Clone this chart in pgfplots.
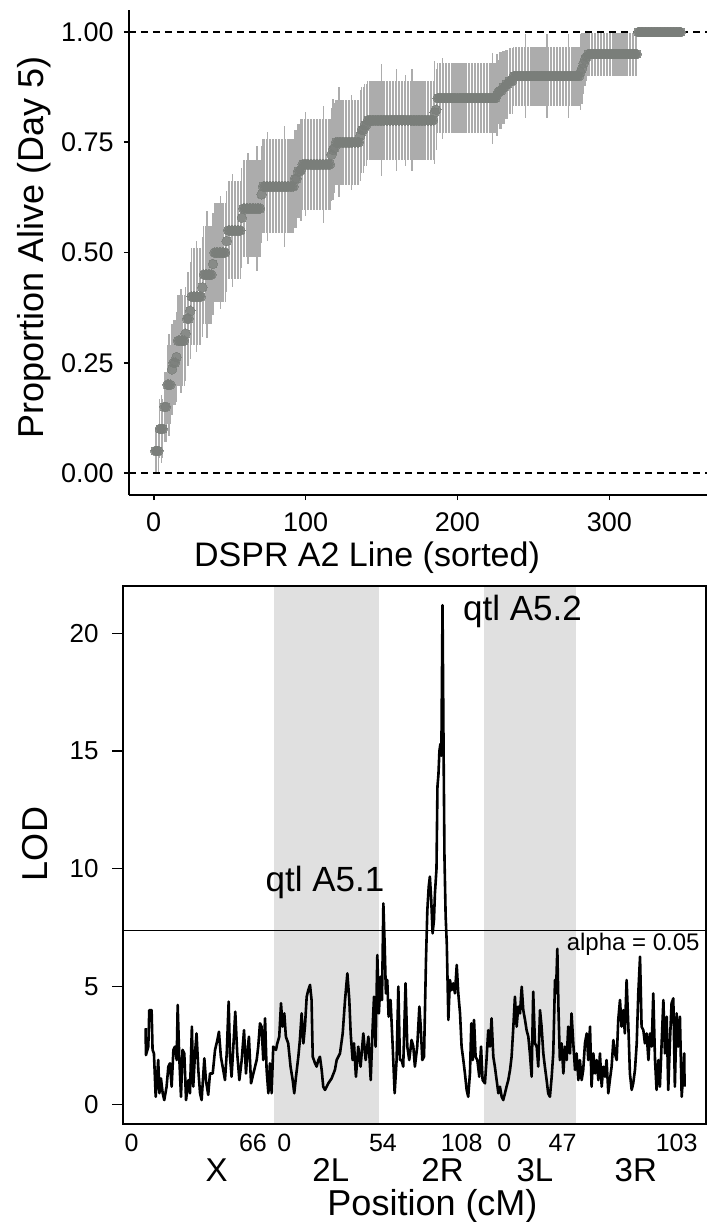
\documentclass[border=0pt]{standalone}
\usepackage{pgfplots}
\pgfplotsset{compat=1.18}
\usepackage{pgfplotstable}
\usepackage{fontspec}
\setmainfont{Liberation Sans}
\definecolor{shade}{RGB}{224,224,224}
\definecolor{barcol}{RGB}{172,172,172}
\definecolor{ptcol}{RGB}{122,126,122}
\newcommand\fs[1]{\fontsize{#1}{#1}\selectfont}

\pgfplotstableread[row sep=\\]{
x y e\\
1 0.05 0.0487\\2 0.05 0.0487\\3 0.05 0.0487\\
4 0.10 0.0671\\5 0.10 0.0775\\6 0.10 0.0671\\
7 0.15 0.0798\\8 0.15 0.0798\\
9 0.20 0.0894\\10 0.20 0.1155\\11 0.20 0.0894\\
12 0.235 0.1029\\13 0.25 0.0968\\14 0.25 0.0968\\15 0.263 0.1010\\
16 0.30 0.1025\\17 0.30 0.1025\\18 0.30 0.1183\\19 0.30 0.1025\\20 0.30 0.1025\\
21 0.316 0.1067\\22 0.35 0.1067\\23 0.35 0.1067\\24 0.368 0.1106\\
25 0.40 0.1095\\26 0.40 0.1095\\27 0.40 0.1095\\28 0.40 0.1265\\29 0.40 0.1095\\30 0.40 0.1095\\31 0.40 0.1095\\
32 0.421 0.1133\\
33 0.45 0.1112\\34 0.45 0.1112\\35 0.45 0.1436\\36 0.45 0.1112\\37 0.45 0.1112\\38 0.45 0.1112\\
39 0.474 0.1146\\
40 0.50 0.1118\\41 0.50 0.1118\\42 0.50 0.1118\\43 0.50 0.1118\\44 0.50 0.1291\\45 0.50 0.1118\\46 0.50 0.1118\\47 0.50 0.1118\\
48 0.526 0.1146\\
49 0.55 0.1112\\50 0.55 0.1112\\51 0.55 0.1112\\52 0.55 0.1284\\53 0.55 0.1112\\54 0.55 0.1112\\55 0.55 0.1112\\56 0.55 0.1112\\57 0.55 0.1112\\
58 0.579 0.1133\\
59 0.60 0.1095\\60 0.60 0.1095\\61 0.60 0.1095\\62 0.60 0.1265\\63 0.60 0.1095\\64 0.60 0.1095\\65 0.60 0.1095\\66 0.60 0.1095\\67 0.60 0.1095\\68 0.60 0.1414\\69 0.60 0.1095\\70 0.60 0.1095\\
71 0.632 0.1106\\
72 0.65 0.1067\\73 0.65 0.1067\\74 0.65 0.1067\\75 0.65 0.1232\\76 0.65 0.1067\\77 0.65 0.1067\\78 0.65 0.1067\\79 0.65 0.1067\\80 0.65 0.1067\\81 0.65 0.1067\\82 0.65 0.1067\\
83 0.65 0.1067\\84 0.65 0.1067\\85 0.65 0.1067\\86 0.65 0.1377\\87 0.65 0.1067\\88 0.65 0.1067\\89 0.65 0.1067\\90 0.65 0.1067\\91 0.65 0.1067\\92 0.65 0.1067\\
93 0.667 0.1111\\94 0.667 0.1111\\95 0.684 0.1067\\96 0.684 0.1067\\97 0.688 0.1159\\
98 0.70 0.1025\\99 0.70 0.1025\\100 0.70 0.1183\\101 0.70 0.1025\\102 0.70 0.1025\\103 0.70 0.1025\\104 0.70 0.1025\\105 0.70 0.1025\\106 0.70 0.1025\\107 0.70 0.1025\\
108 0.70 0.1025\\109 0.70 0.1025\\110 0.70 0.1025\\111 0.70 0.1025\\112 0.70 0.1323\\113 0.70 0.1025\\114 0.70 0.1025\\115 0.70 0.1025\\116 0.70 0.1025\\
117 0.722 0.1056\\118 0.733 0.1142\\119 0.737 0.1010\\
120 0.75 0.0968\\121 0.75 0.0968\\122 0.75 0.1250\\123 0.75 0.0968\\124 0.75 0.0968\\125 0.75 0.0968\\126 0.75 0.0968\\127 0.75 0.0968\\
128 0.75 0.0968\\129 0.75 0.0968\\130 0.75 0.1083\\131 0.75 0.0968\\132 0.75 0.0968\\133 0.75 0.0968\\134 0.75 0.0968\\135 0.75 0.0968\\
136 0.765 0.1029\\137 0.778 0.0980\\138 0.778 0.0980\\139 0.789 0.0935\\140 0.789 0.0935\\
141 0.80 0.0894\\142 0.80 0.0894\\143 0.80 0.0894\\144 0.80 0.0894\\145 0.80 0.0894\\146 0.80 0.0894\\147 0.80 0.0894\\148 0.80 0.0894\\149 0.80 0.0894\\150 0.80 0.1265\\
151 0.80 0.0894\\152 0.80 0.0894\\153 0.80 0.0894\\154 0.80 0.0894\\155 0.80 0.0894\\156 0.80 0.0894\\157 0.80 0.0894\\158 0.80 0.0894\\159 0.80 0.0894\\160 0.80 0.1155\\
161 0.80 0.0894\\162 0.80 0.0894\\163 0.80 0.0894\\164 0.80 0.0894\\165 0.80 0.0894\\166 0.80 0.1033\\167 0.80 0.0894\\168 0.80 0.0894\\169 0.80 0.0894\\170 0.80 0.1155\\
171 0.80 0.0894\\172 0.80 0.0894\\173 0.80 0.0894\\174 0.80 0.0894\\175 0.80 0.0894\\176 0.80 0.0894\\177 0.80 0.0894\\178 0.80 0.0894\\179 0.80 0.0894\\180 0.80 0.0894\\
181 0.80 0.0894\\182 0.80 0.0894\\183 0.80 0.0894\\184 0.80 0.0894\\
185 0.818 0.1163\\186 0.824 0.0925\\
187 0.85 0.0798\\188 0.85 0.0798\\189 0.85 0.0798\\190 0.85 0.0922\\191 0.85 0.0798\\192 0.85 0.0798\\193 0.85 0.0798\\194 0.85 0.0798\\195 0.85 0.0798\\196 0.85 0.0798\\
197 0.85 0.0798\\198 0.85 0.0798\\199 0.85 0.0798\\200 0.85 0.0798\\201 0.85 0.0798\\202 0.85 0.0798\\203 0.85 0.0798\\204 0.85 0.0798\\205 0.85 0.0798\\206 0.85 0.0798\\
207 0.85 0.0798\\208 0.85 0.0798\\209 0.85 0.0798\\210 0.85 0.0798\\211 0.85 0.0798\\212 0.85 0.0798\\213 0.85 0.0798\\214 0.85 0.0798\\215 0.85 0.0798\\216 0.85 0.0798\\
217 0.85 0.0798\\218 0.85 0.0798\\219 0.85 0.0798\\220 0.85 0.0798\\221 0.85 0.0798\\222 0.85 0.0798\\223 0.85 0.1031\\224 0.85 0.0798\\225 0.85 0.0798\\
226 0.857 0.0935\\227 0.864 0.0732\\228 0.867 0.0878\\229 0.867 0.0878\\230 0.875 0.0827\\231 0.875 0.0827\\232 0.882 0.0781\\233 0.882 0.0781\\234 0.889 0.0741\\235 0.889 0.0741\\236 0.889 0.0741\\
237 0.90 0.0671\\238 0.90 0.0671\\239 0.90 0.0671\\240 0.90 0.0671\\241 0.90 0.0671\\242 0.90 0.0671\\243 0.90 0.0671\\244 0.90 0.0671\\245 0.90 0.0949\\246 0.90 0.0671\\
247 0.90 0.0671\\248 0.90 0.0671\\249 0.90 0.0671\\250 0.90 0.0671\\251 0.90 0.0671\\252 0.90 0.0671\\253 0.90 0.0671\\254 0.90 0.0671\\255 0.90 0.0671\\256 0.90 0.0671\\
257 0.90 0.0671\\258 0.90 0.0671\\259 0.90 0.0949\\260 0.90 0.0671\\261 0.90 0.0671\\262 0.90 0.0671\\263 0.90 0.0671\\264 0.90 0.0671\\265 0.90 0.0671\\266 0.90 0.0671\\
267 0.90 0.0671\\268 0.90 0.0671\\269 0.90 0.0671\\270 0.90 0.0671\\271 0.90 0.0671\\272 0.90 0.0671\\273 0.90 0.0949\\274 0.90 0.0671\\275 0.90 0.0671\\276 0.90 0.0671\\
277 0.90 0.0671\\278 0.90 0.0671\\279 0.90 0.0671\\280 0.90 0.0671\\
281 0.909 0.0867\\282 0.917 0.0798\\283 0.929 0.0688\\284 0.938 0.0605\\285 0.944 0.0540\\
286 0.95 0.0487\\287 0.95 0.0487\\288 0.95 0.0487\\289 0.95 0.0487\\290 0.95 0.0487\\291 0.95 0.0487\\292 0.95 0.0487\\293 0.95 0.0487\\294 0.95 0.0487\\295 0.95 0.0487\\
296 0.95 0.0487\\297 0.95 0.0487\\298 0.95 0.0487\\299 0.95 0.0487\\300 0.95 0.0487\\301 0.95 0.0487\\302 0.95 0.0487\\303 0.95 0.0487\\304 0.95 0.0487\\305 0.95 0.0487\\
306 0.95 0.0487\\307 0.95 0.0487\\308 0.95 0.0487\\309 0.95 0.0487\\310 0.95 0.0487\\311 0.95 0.0487\\312 0.95 0.0487\\313 0.95 0.0487\\314 0.95 0.0487\\315 0.95 0.0487\\
316 0.95 0.0487\\317 0.95 0.0487\\318 0.95 0.0487\\
319 1 0\\320 1 0\\321 1 0\\322 1 0\\323 1 0\\324 1 0\\325 1 0\\326 1 0\\327 1 0\\328 1 0\\
329 1 0\\330 1 0\\331 1 0\\332 1 0\\333 1 0\\334 1 0\\335 1 0\\336 1 0\\337 1 0\\338 1 0\\
339 1 0\\340 1 0\\341 1 0\\342 1 0\\343 1 0\\344 1 0\\345 1 0\\346 1 0\\347 1 0\\
}\survival

\pgfplotstableread[row sep=\\]{
cm lod\\
0.0 3.23\\0.2 2.09\\1.4 2.45\\1.9 4.00\\3.1 4.00\\3.6 2.31\\4.3 2.16\\5.2 0.32\\6.5 1.88\\7.1 0.47\\
7.9 1.10\\8.8 0.47\\9.6 0.18\\10.8 0.75\\11.7 1.60\\12.5 1.74\\13.4 0.75\\14.3 2.31\\15.1 2.45\\16.0 1.88\\
16.5 4.22\\17.3 2.02\\18.2 0.32\\19.0 2.31\\19.9 2.16\\20.8 0.18\\22.0 1.03\\22.8 0.47\\23.8 3.30\\24.5 0.75\\
25.4 2.16\\26.2 3.01\\27.1 1.46\\28.0 0.47\\28.8 0.18\\30.2 1.95\\31.0 1.03\\32.2 0.40\\33.1 1.31\\34.5 1.31\\
35.7 2.31\\36.9 2.73\\37.7 3.08\\38.7 2.02\\39.9 1.46\\40.8 1.03\\41.7 2.16\\42.7 4.36\\43.4 2.02\\44.2 1.17\\
45.1 2.45\\46.1 3.93\\47.1 2.16\\48.2 1.03\\49.4 1.88\\50.6 3.15\\51.6 1.31\\52.3 2.16\\53.1 2.87\\54.2 0.89\\
55.4 1.31\\57.1 1.88\\57.9 2.45\\58.8 3.44\\59.6 3.30\\60.5 1.88\\61.4 3.65\\62.2 1.46\\63.1 0.47\\63.9 1.74\\
64.8 0.47\\65.6 2.45\\
67.0 2.31\\67.7 2.59\\68.7 2.87\\69.6 4.29\\70.4 3.30\\71.3 3.86\\72.1 2.87\\73.3 2.59\\74.5 1.60\\75.6 1.03\\
76.4 0.47\\77.3 1.17\\78.5 2.02\\79.3 2.73\\80.2 3.86\\81.1 2.59\\81.9 3.30\\82.8 4.57\\83.6 4.85\\84.5 5.07\\
85.3 4.43\\85.9 2.02\\87.1 1.74\\87.9 1.60\\88.8 1.88\\89.6 2.02\\90.5 1.46\\91.3 0.75\\92.2 0.61\\93.9 0.89\\
95.6 1.10\\97.3 1.46\\98.2 1.88\\99.9 2.16\\101.3 3.01\\102.5 4.43\\103.7 5.56\\104.7 4.43\\105.4 3.01\\106.4 1.88\\
107.1 2.59\\108.1 1.17\\109.3 2.45\\110.5 1.60\\111.9 3.01\\113.1 1.88\\114.5 2.87\\115.7 1.03\\116.7 3.30\\117.4 4.57\\
118.2 2.45\\119.1 6.34\\119.9 3.86\\120.8 5.42\\121.5 4.43\\122.2 8.53\\122.9 6.69\\123.5 4.71\\124.2 5.28\\124.9 3.72\\
125.9 4.43\\127.0 2.45\\128.0 0.47\\129.0 1.88\\129.9 5.00\\130.7 1.88\\131.6 1.88\\132.4 1.60\\133.6 5.14\\134.5 2.45\\
135.5 1.88\\136.7 2.73\\137.6 2.45\\138.4 1.60\\139.6 2.45\\140.7 4.15\\141.4 3.30\\142.2 1.88\\143.1 2.02\\144.1 6.13\\
144.8 8.25\\145.5 9.24\\146.1 9.67\\146.8 8.68\\147.5 7.26\\148.2 7.83\\148.7 8.96\\149.5 10.0\\150.0 13.5\\150.5 14.0\\
151.0 15.0\\151.5 15.3\\152.0 14.8\\152.6 21.2\\153.1 15.5\\153.6 10.5\\154.2 8.0\\154.8 6.8\\155.6 3.58\\156.4 5.28\\
157.3 4.85\\158.1 5.14\\159.0 4.71\\159.9 5.92\\160.7 4.71\\161.6 3.86\\162.4 2.45\\163.3 1.88\\164.1 1.32\\165.0 0.61\\
165.8 0.32\\166.7 1.32\\167.4 3.44\\168.1 1.88\\168.8 3.58\\169.6 2.02\\170.5 1.88\\171.5 1.17\\172.4 2.45\\173.2 1.03\\
174.4 0.89\\175.2 1.88\\176.1 3.15\\177.0 2.45\\177.8 3.65\\178.7 2.02\\179.5 1.60\\180.4 1.03\\181.3 0.47\\182.1 0.75\\
183.0 0.32\\183.8 0.18\\184.7 0.47\\185.5 0.75\\186.4 1.03\\187.3 1.46\\188.1 2.02\\189.0 3.30\\189.8 4.57\\190.7 3.30\\
191.5 4.15\\192.4 3.86\\193.3 4.99\\194.1 4.00\\195.0 3.58\\195.8 3.15\\196.7 2.87\\197.5 2.16\\198.4 1.17\\199.2 4.78\\
200.1 2.59\\201.0 2.45\\201.8 1.60\\202.7 4.00\\203.5 3.30\\204.4 2.16\\205.2 1.60\\206.1 1.03\\206.9 0.47\\207.8 0.32\\
208.7 1.17\\209.5 2.16\\210.4 5.28\\210.9 4.71\\211.6 6.60\\212.2 4.00\\212.9 1.88\\213.8 2.59\\214.7 1.31\\215.5 2.45\\
216.4 1.88\\217.2 3.30\\218.1 2.16\\218.9 3.86\\219.8 2.59\\220.7 1.46\\221.5 2.16\\222.4 1.03\\223.2 1.88\\224.1 1.03\\
224.9 1.46\\225.8 2.59\\226.7 3.01\\227.5 1.88\\228.4 3.30\\229.2 0.75\\230.1 2.16\\231.0 1.31\\231.8 1.88\\232.7 1.03\\
233.5 2.16\\234.4 0.75\\235.2 1.60\\236.1 1.17\\236.9 1.88\\237.8 0.47\\238.6 1.03\\239.5 1.60\\240.4 2.73\\241.2 2.16\\
242.1 1.88\\242.9 3.58\\243.8 4.43\\244.6 3.30\\245.5 4.00\\246.3 3.01\\247.2 5.28\\248.1 3.30\\248.9 1.31\\249.8 0.61\\
250.6 0.89\\251.5 1.46\\252.4 2.59\\253.2 4.71\\254.1 6.27\\254.9 3.30\\255.8 3.15\\256.6 2.59\\257.5 3.01\\258.4 1.88\\
259.2 3.01\\260.1 2.45\\260.9 4.71\\261.8 1.88\\262.6 0.61\\263.5 1.88\\264.3 0.75\\265.2 2.59\\266.1 4.43\\266.9 2.16\\
267.8 3.72\\268.6 0.61\\269.5 2.73\\270.3 4.29\\271.2 4.50\\272.0 0.75\\272.9 3.86\\273.7 2.45\\274.6 3.72\\275.5 0.32\\
276.3 1.31\\276.8 2.16\\277.0 0.75\\
}\lodscan

\begin{document}
\begin{tikzpicture}
\path[use as bounding box] (0pt,0pt) rectangle (353.5pt,-611pt);

% ---------- top panel ----------
\begin{axis}[
  at={(64.5pt,-247.5pt)}, anchor=south west,
  scale only axis, width=289pt, height=242.5pt,
  xmin=-16.3, xmax=364.3, ymin=-0.05, ymax=1.05,
  axis x line=bottom, axis y line=left,
  axis line style={-, line width=0.8pt, black},
  xtick={0,100,200,300},
  ytick={0,0.25,0.5,0.75,1},
  yticklabels={0.00,0.25,0.50,0.75,1.00},
  tick align=outside, major tick length=2.5pt,
  tick style={black, line width=0.8pt},
  /pgf/number format/assume math mode=true,
  ticklabel style={font=\fs{13.5}},
  yticklabel style={anchor=east, inner sep=0pt, xshift=-5pt},
  xticklabel style={anchor=north, inner sep=0pt, yshift=-6pt},
]
\addplot[black, line width=0.6pt, dash pattern=on 3.5pt off 2.5pt] coordinates {(-16.3,0) (364.3,0)};
\addplot[black, line width=0.6pt, dash pattern=on 3.5pt off 2.5pt] coordinates {(-16.3,1) (364.3,1)};
\addplot[barcol, only marks, mark=none,
  error bars/.cd, y dir=both, y explicit, error mark=none,
  error bar style={line width=0.6pt, barcol}]
  table[x=x, y=y, y error=e]{\survival};
\addplot[ptcol, only marks, mark=*, mark size=2.4pt,
  mark options={draw=ptcol, fill=ptcol, line width=0pt, opacity=0.7}]
  table[x=x, y=y]{\survival};
\end{axis}

% ---------- bottom panel ----------
\begin{axis}[
  at={(61.5pt,-562pt)}, anchor=south west,
  scale only axis, width=291.5pt, height=269pt,
  xmin=-11.6, xmax=288.0, ymin=-0.837, ymax=22.01,
  axis on top,
  axis line style={line width=0.7pt, black},
  xtick=\empty,
  ytick={0,5,10,15,20}, ytick pos=left,
  tick align=outside, major tick length=5.5pt,
  tick style={black, line width=0.6pt},
  /pgf/number format/assume math mode=true,
  ticklabel style={font=\fs{13}},
  yticklabel style={anchor=east, inner sep=0pt, xshift=-6.5pt},
]
\addplot[draw=none, fill=shade] coordinates {(66,-0.837) (66,22.01) (120,22.01) (120,-0.837)} -- cycle;
\addplot[draw=none, fill=shade] coordinates {(174,-0.837) (174,22.01) (221,22.01) (221,-0.837)} -- cycle;
\addplot[black, line width=0.5pt] coordinates {(-11.6,7.36) (288.0,7.36)};
\addplot[black, line width=1.3pt, line join=round] table[x=cm, y=lod]{\lodscan};
\end{axis}

% ---------- text ----------
\begin{scope}[every node/.style={inner sep=0pt}]
\node[rotate=90, anchor=base, font=\fs{18}] at (21.5pt,-123.75pt) {Proportion Alive (Day 5)};
\node[anchor=base, font=\fs{17}] at (183.5pt,-283.35pt) {DSPR A2 Line (sorted)};
\node[rotate=90, anchor=base, font=\fs{18}] at (23.5pt,-422pt) {LOD};
\node[anchor=base, font=\fs{18}] at (216.25pt,-607.5pt) {Position (cM)};

\node[anchor=base, font=\fs{17.5}] at (162.5pt,-445.5pt) {qtl A5.1};
\node[anchor=base, font=\fs{17.5}] at (261.25pt,-310pt) {qtl A5.2};
\node[anchor=base east, font=\fs{12}] at (350pt,-475.35pt) {alpha = 0.05};

\foreach \xx/\tt in {65.85/0,126.5/66,142.1/0,191.5/54,230.85/108,252.1/0,281.25/47,338.35/103}
  \node[anchor=base, font=\fs{12.5}] at (\xx pt,-575.85pt) {\tt};
\foreach \xx/\tt in {108.35/X,165.4/2L,221.25/2R,267.5/3L,317.9/3R}
  \node[anchor=base, font=\fs{16.5}] at (\xx pt,-590.9pt) {\tt};
\end{scope}
\end{tikzpicture}
\end{document}
